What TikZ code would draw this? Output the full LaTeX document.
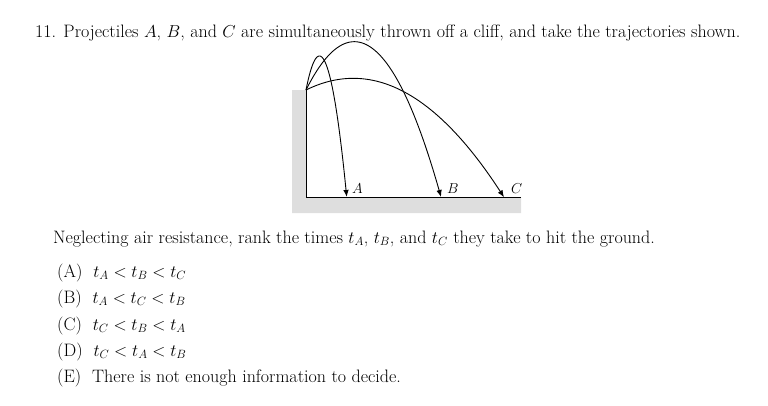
\documentclass[tikz,border=0pt]{standalone}
\usetikzlibrary{arrows.meta}
\begin{document}
\begin{tikzpicture}[x=1pt,y=-1pt,
  txt/.style={anchor=base west,inner sep=0pt,font=\fontsize{18}{21}\selectfont},
  lbl/.style={anchor=base west,inner sep=0pt,font=\fontsize{15}{17}\selectfont},
  traj/.style={line width=0.9pt,-{Latex[length=7pt,width=5.5pt]}},
  wall/.style={line width=0.9pt}]
\useasboundingbox (0,0) rectangle (768,405);
% ground and cliff
\fill[black!13] (292,90) -- (306,90) -- (306,197) -- (521,197) -- (521,213) -- (292,213) -- cycle;
\coordinate (top) at (306,90);
\coordinate (corner) at (306,197);
\coordinate (gend) at (521,197);
\draw[wall] (top) -- (corner) -- (gend);
% trajectories
\draw[traj] plot[domain=0:40.7,samples=80] ({306+\x},{90-5.073*\x+0.1892*\x*\x});
\draw[traj] plot[domain=0:135,samples=100] ({306+\x},{90-1.999*\x+0.02068*\x*\x});
\draw[traj] plot[domain=0:198,samples=100] ({306+\x},{90-0.4946*\x+0.005228*\x*\x});
\node[lbl] (lA) at (352,193) {$A$};
\node[lbl] (lB) at (447,193) {$B$};
\node[lbl] (lC) at (511,193) {$C$};
% text
\node[txt] (title) at (35,37) {11. Projectiles $A$, $B$, and $C$ are simultaneously thrown off a cliff, and take the trajectories shown.};
\node[txt] (q) at (53,243) {Neglecting air resistance, rank the times $t_A$, $t_B$, and $t_C$ they take to hit the ground.};
\node[txt] (oA) at (57,277) {(A)\ \ $t_A<t_B<t_C$};
\node[txt] (oB) at (57,303) {(B)\ \ $t_A<t_C<t_B$};
\node[txt] (oC) at (57,330) {(C)\ \ $t_C<t_B<t_A$};
\node[txt] (oD) at (57,356) {(D)\ \ $t_C<t_A<t_B$};
\node[txt] (oE) at (57,382) {(E)\ \ There is not enough information to decide.};
\end{tikzpicture}
\end{document}
